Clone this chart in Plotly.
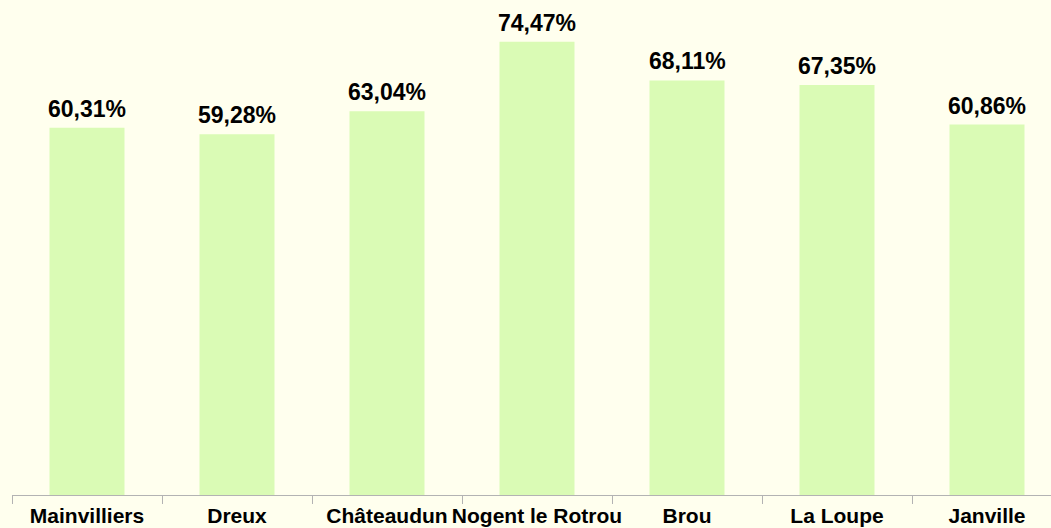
import plotly.graph_objects as go

categories = ["Mainvilliers", "Dreux", "Châteaudun", "Nogent le Rotrou", "Brou", "La Loupe", "Janville"]
values = [60.31, 59.28, 63.04, 74.47, 68.11, 67.35, 60.86]

BG = "#FFFFEE"
BAR = "#DAFBB5"

fig = go.Figure(
    go.Bar(
        x=categories,
        y=values,
        width=0.5,
        marker=dict(color=BAR, line=dict(width=0)),
        hoverinfo="x+y",
    )
)

for c, v in zip(categories, values):
    label = ("%.2f" % v).replace(".", ",") + "%"
    fig.add_annotation(
        x=c,
        y=v,
        xref="x",
        yref="y",
        text="<b>%s</b>" % label,
        showarrow=False,
        yanchor="bottom",
        yshift=4,
        font=dict(family="Liberation Sans", size=23, color="#000000"),
    )

fig.update_layout(
    width=1051,
    height=528,
    margin=dict(l=12, r=0, t=8, b=33),
    paper_bgcolor=BG,
    plot_bgcolor=BG,
    showlegend=False,
    font=dict(family="Liberation Sans", color="#000000"),
)

fig.update_xaxes(
    type="category",
    range=[-0.5, 6.4267],
    showline=True,
    linecolor="#B3B3B3",
    linewidth=1,
    ticks="outside",
    tickson="boundaries",
    ticklen=8,
    tickcolor="#B3B3B3",
    tickwidth=1,
    showgrid=False,
    tickangle=0,
    automargin=False,
    ticklabelstandoff=2,
    tickfont=dict(family="Liberation Sans", size=21, color="#000000"),
    tickvals=categories,
    ticktext=["<b>%s</b>" % c for c in categories],
)

fig.update_yaxes(
    range=[0, 80],
    visible=False,
    showgrid=False,
    zeroline=False,
)

fig.write_html("out.html")
